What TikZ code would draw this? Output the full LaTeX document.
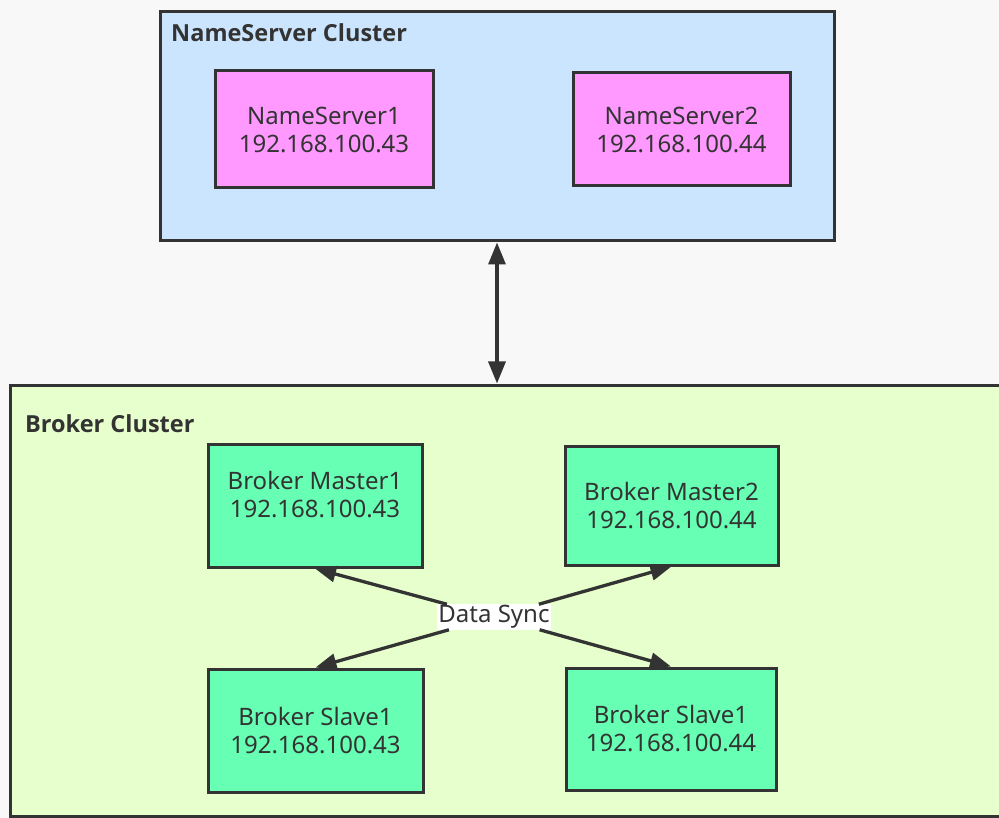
\documentclass[tikz,border=0pt]{standalone}
\usepackage{fontspec}
\setmainfont{Noto Sans}
\newfontfamily\ttlfont{Open Sans}
\usetikzlibrary{arrows.meta,calc}
\definecolor{bg}{HTML}{F8F8F8}
\definecolor{nsfill}{HTML}{CCE5FF}
\definecolor{nsbox}{HTML}{FF99FF}
\definecolor{brfill}{HTML}{E6FFCC}
\definecolor{brbox}{HTML}{66FFB3}
\definecolor{edge}{HTML}{333333}
\begin{document}
\begin{tikzpicture}[x=1pt,y=-1pt,
  cluster/.style={draw=edge, line width=3pt, inner sep=0pt},
  srv/.style={draw=edge, line width=3pt, inner sep=0pt, align=center, text=edge,
    font=\fontsize{24}{28}\selectfont},
  txt/.style={inner sep=0pt, align=center, text=edge, font=\fontsize{24}{28}\selectfont},
  ttl/.style={anchor=west, inner sep=0pt, text=edge, font=\ttlfont\bfseries\fontsize{23.5}{27}\selectfont},
  link/.style={draw=edge, line width=3.3pt, {Triangle[length=22pt,width=17pt]}-{Triangle[length=22pt,width=17pt]}},
  sync/.style={draw=edge, line width=3.3pt, -{Triangle[length=21pt,width=16pt]}},
]
\useasboundingbox (0,0) rectangle (999,818);
\fill[bg] (0,0) rectangle (999,818);

% clusters
\node[cluster, fill=nsfill, minimum width=674pt, minimum height=229pt] (nsc) at (497,126.5) {};
\begin{scope}
  \clip (0,0) rectangle (999,818);
  \node[cluster, fill=brfill, minimum width=1000pt, minimum height=431pt] (brc) at (510,600.5) {};
\end{scope}

\node[ttl] (nst) at (171,33) {NameServer Cluster};
\node[ttl] (brt) at (25,424) {Broker Cluster};

% name servers
\node[srv, fill=nsbox, minimum width=218pt, minimum height=117pt] (ns1) at (324,129.5)
  {NameServer1\\192.168.100.43};
\node[srv, fill=nsbox, minimum width=217pt, minimum height=113pt] (ns2) at (681.5,129.5)
  {NameServer2\\192.168.100.44};

% brokers
\node[srv, fill=brbox, minimum width=214pt, minimum height=123pt] (m1) at (315,505.5) {};
\node[txt] (m1t) at ($(m1.center)+(0,-11)$) {Broker Master1\\192.168.100.43};
\node[srv, fill=brbox, minimum width=213pt, minimum height=119pt] (m2) at (671.5,505.5)
  {Broker Master2\\192.168.100.44};
\node[srv, fill=brbox, minimum width=215pt, minimum height=123pt] (s1) at (315.5,730.5)
  {Broker Slave1\\192.168.100.43};
\node[srv, fill=brbox, minimum width=210pt, minimum height=122pt] (s2) at (671,729)
  {Broker Slave1\\192.168.100.44};

% connectors
\draw[link] (nsc.south) -- (nsc.south |- brc.north);

\node[fill=white, inner xsep=1.5pt, inner ysep=1pt, text=edge,
  font=\fontsize{24}{28}\selectfont] (ds) at (494,617) {Data Sync};
\draw[sync] (ds) -- (m1.south);
\draw[sync] (ds) -- (m2.south);
\draw[sync] (ds) -- (s1.north);
\draw[sync] (ds) -- (s2.north);
\end{tikzpicture}
\end{document}
